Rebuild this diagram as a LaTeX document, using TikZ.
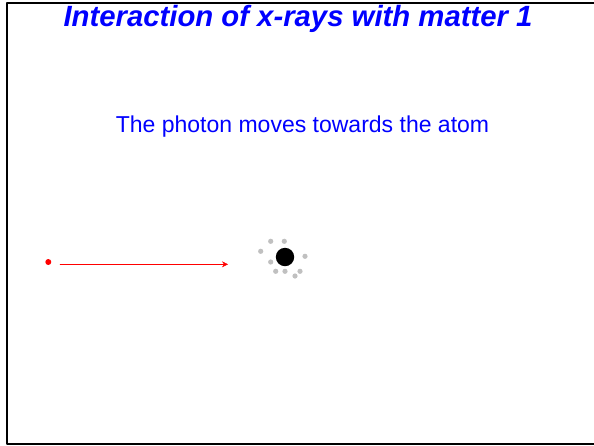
\documentclass[tikz,border=0pt]{standalone}
\usepackage{fontspec}
\setmainfont{Liberation Sans}
\usetikzlibrary{arrows.meta}
\definecolor{slideblue}{RGB}{0,0,255}
\definecolor{shellgray}{RGB}{192,192,192}

\begin{document}
\begin{tikzpicture}[x=1pt, y=-1pt, line join=round, line cap=round]
\useasboundingbox (0,0) rectangle (594,445);
\draw[line width=2pt] (594,3)--(7,3)--(7,443.5)--(594,443.5);
\node[text=slideblue, font=\fontsize{29.3}{34}\selectfont\bfseries\itshape] (title) at (298,19) {Interaction of x-rays with matter 1};
\node[text=slideblue, font=\fontsize{23}{27}\selectfont] (caption) at (302.5,127) {The photon moves towards the atom};
\coordinate (P) at (48.3,262);
\coordinate (S) at (60,264.3);
\coordinate (T) at (228,264.3);
\coordinate (N) at (285,257);
\fill[red] (P) circle (3);
\draw[red, -{Stealth[length=6pt,width=6pt]}] (S)--(T);
\fill[shellgray] (270.7,241.3) circle (2.6);
\fill[shellgray] (284.3,241.3) circle (2.6);
\fill[shellgray] (260.7,251.3) circle (2.6);
\fill[shellgray] (305,256.3) circle (2.6);
\fill[shellgray] (270.7,262) circle (2.6);
\fill[shellgray] (275.7,271.3) circle (2.6);
\fill[shellgray] (285,271.3) circle (2.6);
\fill[shellgray] (300,271.3) circle (2.6);
\fill[shellgray] (295,276) circle (2.6);
\fill[black] (N) circle (9.2);
\end{tikzpicture}
\end{document}
